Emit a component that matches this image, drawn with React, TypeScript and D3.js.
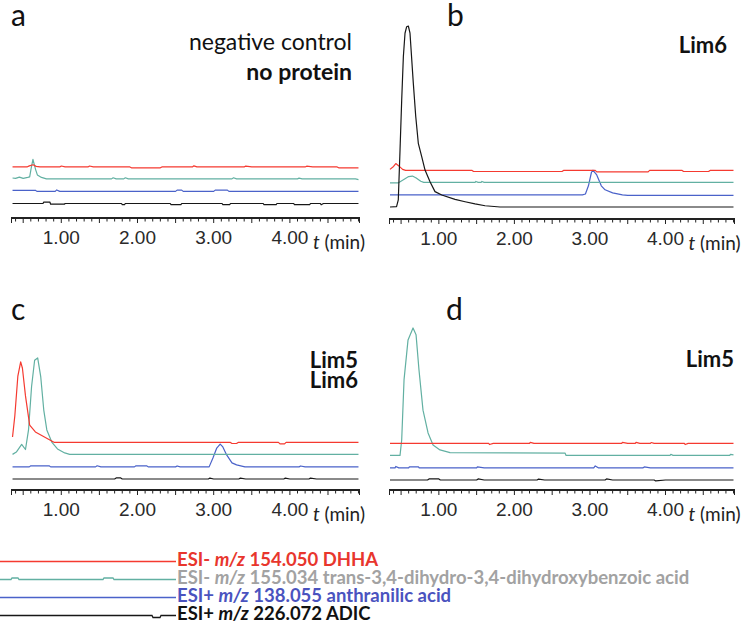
import React from "react";
import * as d3 from "d3";

type Pt = [number, number];

// ---------- axis ----------
const TIME_DOMAIN: [number, number] = [0.34, 4.92];
const TICK_VALUES = [1, 2, 3, 4];
const TICK_LABELS = ["1.00", "2.00", "3.00", "4.00"];
const MINOR_TICKS = d3.range(4, 50).map((i) => i / 10);
const AXIS_UNIT = "(min)";
const AXIS_VAR = "t";

// ---------- series ----------
const SERIES_NAMES = ["DHHA", "DHHBA", "anthranilic acid", "ADIC"];
const SERIES_COLORS = ["#f53a30", "#62b0a2", "#4a62c9", "#171717"];
// baseline offsets of the stacked traces (relative intensity units)
const SERIES_OFFSETS = [20.2, 13.6, 6.7, 0];

// ---------- panel a : negative control ----------
const A_RED: Pt[] = [[0.36,0],[0.55,0],[0.58,0.6],[0.63,1.2],[0.67,0.3],[0.72,0],[0.98,0],[1.0,0.5],[1.05,0],[1.35,0],[1.37,0.5],[1.42,0],[1.9,0],[1.92,-0.5],[2.3,-0.5],[2.32,0],[2.72,0],[2.74,0.6],[2.78,0],[3.4,0],[3.42,0.5],[3.5,0],[4.2,0],[4.22,0.4],[4.3,0],[4.62,0],[4.64,-0.5],[4.9,-0.5]];
const A_TEAL: Pt[] = [[0.36,0.5],[0.4,0.3],[0.45,1],[0.5,0.3],[0.56,0.8],[0.585,1.1],[0.605,6],[0.628,10.8],[0.645,8],[0.664,5],[0.686,2.2],[0.74,0.8],[0.805,0],[1.66,0],[1.68,0.6],[1.72,0],[1.82,0],[1.84,0.6],[1.88,0],[3.24,0],[3.26,0.6],[3.3,0],[4.1,0],[4.12,0.4],[4.16,0],[4.86,0],[4.9,-0.4]];
const A_BLUE: Pt[] = [[0.36,0.6],[0.66,0.6],[0.68,0],[0.92,0],[0.94,0.8],[0.98,0],[2.5,0],[2.52,0.7],[2.58,0.7],[2.6,0],[3.0,0],[3.02,0.7],[3.18,0.7],[3.2,0],[4.9,0]];
const A_BLACK: Pt[] = [[0.36,0],[0.76,0],[0.77,0.8],[0.85,0.8],[0.86,-0.4],[1.04,-0.4],[1.05,0],[1.79,0],[1.8,-0.6],[1.83,-0.6],[1.84,0],[2.43,0],[2.44,-0.6],[2.57,-0.6],[2.58,0],[3.11,0],[3.12,-0.6],[3.21,-0.6],[3.22,0],[3.65,0],[3.66,-0.6],[3.82,-0.6],[3.83,0],[4.05,0],[4.06,-0.6],[4.26,-0.6],[4.27,0],[4.4,0],[4.41,-0.7],[4.44,0],[4.9,0]];

// ---------- panel b : Lim6 ----------
const B_RED: Pt[] = [[0.353,0.6],[0.4,2.2],[0.43,3.8],[0.47,2.5],[0.52,0.6],[0.56,0],[1.44,0],[1.46,-0.6],[2.63,-0.6],[2.65,0],[3.07,0],[3.09,-0.8],[3.77,-0.8],[3.79,0],[4.22,0],[4.24,-0.6],[4.57,-0.6],[4.59,0],[4.9,0]];
const B_TEAL: Pt[] = [[0.353,-0.3],[0.46,-0.3],[0.52,1.2],[0.6,3.2],[0.65,3.5],[0.7,2.4],[0.76,0.6],[0.8,0],[1.48,0],[1.49,0.5],[1.52,0],[1.56,0],[1.57,0.5],[1.6,0],[4.9,0]];
const B_BLUE: Pt[] = [[0.353,0],[2.9,0],[2.94,0.5],[2.98,5],[3.02,12.5],[3.04,13.6],[3.09,11],[3.15,5],[3.2,2.8],[3.3,1.1],[3.43,0],[3.5,-0.3],[4.9,-0.3]];
const B_BLACK: Pt[] = [[0.353,0],[0.44,0.2],[0.463,3.9],[0.486,31.5],[0.508,59],[0.53,83],[0.552,96],[0.574,99.6],[0.596,100],[0.618,96],[0.662,68.3],[0.694,50],[0.728,35.2],[0.773,27.8],[0.817,20.4],[0.883,14],[0.949,8.5],[1.038,6.6],[1.214,4.2],[1.347,2.9],[1.479,1.7],[1.612,0.7],[1.81,0],[4.9,0]];

// ---------- panel c : Lim5 + Lim6 ----------
const C_RED: Pt[] = [[0.36,3],[0.39,14.6],[0.43,36.7],[0.467,44.5],[0.49,41],[0.53,25.7],[0.585,9.6],[0.66,5.8],[0.755,3.6],[0.85,1.4],[0.91,0],[3.22,0],[3.24,-0.6],[3.3,-0.6],[3.32,0],[3.85,0],[3.87,-0.8],[3.93,-0.8],[3.95,0],[4.9,0]];
const C_TEAL: Pt[] = [[0.36,0],[0.41,1.3],[0.48,5.5],[0.53,2.7],[0.57,13.5],[0.61,37.5],[0.65,52],[0.69,53.3],[0.73,43],[0.77,24.5],[0.81,13.5],[0.875,6.8],[0.95,3],[1.045,0.8],[1.11,0],[4.9,0]];
const C_BLUE: Pt[] = [[0.36,0],[0.58,0],[0.6,0.6],[0.84,0.6],[0.86,0],[1.45,0],[1.47,0.6],[1.52,0],[1.96,0],[1.98,0.6],[2.12,0.6],[2.14,0],[2.5,0],[2.52,0.5],[2.56,0],[2.94,0],[2.99,4.9],[3.04,10.4],[3.085,12.6],[3.12,11],[3.17,6.6],[3.24,2.2],[3.3,1.1],[3.41,0],[4.12,0],[4.14,0.5],[4.2,0],[4.9,0]];
const C_BLACK: Pt[] = [[0.36,0],[1.7,0],[1.72,0.6],[1.78,0.6],[1.8,0],[2.93,0],[2.95,0.5],[3.0,0],[3.33,0],[3.35,0.5],[3.42,0],[3.92,0],[3.94,0.5],[4.0,0],[4.25,0],[4.27,0.5],[4.35,0],[4.9,0]];

// ---------- panel d : Lim5 ----------
const D_RED: Pt[] = [[0.353,0],[1.66,0],[1.67,-0.6],[1.72,0],[2.2,0],[2.21,0.6],[2.26,0],[3.42,0],[3.43,0.6],[3.5,0],[3.6,0],[3.61,0.6],[3.66,0],[3.8,0],[3.81,0.5],[3.85,0],[4.25,0],[4.26,-0.6],[4.3,0],[4.9,0]];
const D_TEAL: Pt[] = [[0.353,0],[0.486,0],[0.508,8.5],[0.539,41.7],[0.592,63.8],[0.658,70.4],[0.698,66.7],[0.737,47.2],[0.79,25],[0.857,12.4],[0.923,5.7],[1.015,3],[1.148,1.5],[2.67,1.3],[2.684,0],[4.06,0],[4.07,0.6],[4.1,0],[4.85,0],[4.86,0.6],[4.9,0.3]];
const D_BLUE: Pt[] = [[0.353,0],[0.42,0],[0.43,0.8],[0.47,0],[0.6,0],[0.61,0.6],[0.73,0.6],[0.74,0],[1.5,0],[1.51,0.5],[1.6,0],[3.05,0],[3.07,1.1],[3.11,0],[3.7,0],[3.72,0.5],[3.8,0],[4.9,0]];
const D_BLACK: Pt[] = [[0.353,0],[0.85,0],[0.87,0.6],[1.0,0.6],[1.02,0],[1.5,0],[1.52,0.6],[1.6,0],[2.3,0],[2.32,0.5],[2.4,0],[3.2,0],[3.22,0.6],[3.3,0],[3.85,0],[3.87,-0.5],[4.0,0],[4.9,0]];

const PANEL_LETTERS = ["a", "b", "c", "d"];
const PANEL_NOTES: { text: string; bold: boolean }[][] = [
  [{ text: "negative control", bold: false }, { text: "no protein", bold: true }],
  [{ text: "Lim6", bold: true }],
  [{ text: "Lim5", bold: true }, { text: "Lim6", bold: true }],
  [{ text: "Lim5", bold: true }],
];
const PANEL_SERIES: Pt[][][] = [
  [A_RED, A_TEAL, A_BLUE, A_BLACK],
  [B_RED, B_TEAL, B_BLUE, B_BLACK],
  [C_RED, C_TEAL, C_BLUE, C_BLACK],
  [D_RED, D_TEAL, D_BLUE, D_BLACK],
];

// ---------- legend ----------
const LEGEND_PREFIX = ["ESI- ", "ESI- ", "ESI+ ", "ESI+ "];
const LEGEND_MZ = ["154.050", "155.034", "138.055", "226.072"];
const LEGEND_NAMES = ["DHHA", "trans-3,4-dihydro-3,4-dihydroxybenzoic acid", "anthranilic acid", "ADIC"];
const LEGEND_TEXT_COLORS = ["#e8362d", "#a2a2a2", "#4a53bf", "#111111"];

// ---------- layout (positions / styles) ----------
const LAYOUT = [
  { x0: 11, x1: 360, base: 203.5, axisY: 218, letterX: 11, letterY: 26, noteRight: 352, noteY: [50, 80], noteSize: 23 },
  { x0: 389, x1: 735, base: 207, axisY: 219, letterX: 447, letterY: 26, noteRight: 727, noteY: [53], noteSize: 22 },
  { x0: 11, x1: 360, base: 479, axisY: 490, letterX: 11, letterY: 320, noteRight: 358, noteY: [368, 388], noteSize: 22 },
  { x0: 389, x1: 735, base: 480, axisY: 490, letterX: 446, letterY: 320, noteRight: 734, noteY: [367], noteSize: 22 },
];
const Y_PX_PER_100 = 181;
const DRAW_ORDER = [2, 1, 0, 3];
const CAL = "Lato, 'Open Sans', sans-serif";
const ARIAL = "'Liberation Sans', Arial, sans-serif";

function Panel({ idx }: { idx: number }) {
  const L = LAYOUT[idx];
  const x = d3.scaleLinear().domain(TIME_DOMAIN).range([L.x0, L.x1]);
  const y = d3.scaleLinear().domain([0, 100]).range([L.base, L.base - Y_PX_PER_100]);
  const series = PANEL_SERIES[idx];
  return (
    <g>
      <text x={L.letterX} y={L.letterY} fontFamily={CAL} fontSize={30} fill="#111">
        {PANEL_LETTERS[idx]}
      </text>
      {PANEL_NOTES[idx].map((n, k) => (
        <text
          key={k}
          x={L.noteRight}
          y={L.noteY[k]}
          textAnchor="end"
          fontFamily={CAL}
          fontWeight={n.bold ? 700 : 400}
          fontSize={L.noteSize}
          fill="#111"
        >
          {n.text}
        </text>
      ))}
      {DRAW_ORDER.map((si) => {
        const line = d3
          .line<Pt>()
          .x((d) => x(d[0]))
          .y((d) => y(d[1] + SERIES_OFFSETS[si]));
        return (
          <path
            key={SERIES_NAMES[si]}
            d={line(series[si]) || ""}
            fill="none"
            stroke={SERIES_COLORS[si]}
            strokeWidth={1.2}
            strokeLinejoin="round"
          />
        );
      })}
      {/* axis */}
      <line x1={L.x0} x2={L.x1} y1={L.axisY} y2={L.axisY} stroke="#222" strokeWidth={2} />
      {MINOR_TICKS.map((t) => {
        const half = Math.abs(t * 2 - Math.round(t * 2)) < 1e-6;
        return (
          <line
            key={t}
            x1={x(t)}
            x2={x(t)}
            y1={L.axisY}
            y2={L.axisY + (half ? 5 : 3.5)}
            stroke="#222"
            strokeWidth={1}
          />
        );
      })}
      <line x1={L.x0 + 0.5} x2={L.x0 + 0.5} y1={L.axisY} y2={L.axisY + 5} stroke="#222" strokeWidth={1} />
      <line x1={L.x1 - 0.5} x2={L.x1 - 0.5} y1={L.axisY} y2={L.axisY + 5} stroke="#222" strokeWidth={1} />
      {TICK_VALUES.map((t, k) => (
        <text
          key={t}
          x={x(t)}
          y={L.axisY + 26}
          textAnchor="middle"
          fontFamily={ARIAL}
          fontSize={19}
          fill="#2a2a2a"
        >
          {TICK_LABELS[k]}
        </text>
      ))}
      <text x={x(4) + 23} y={L.axisY + 31} fontFamily={CAL} fontSize={19} fill="#222">
        <tspan fontStyle="italic">{AXIS_VAR}</tspan>
        <tspan> {AXIS_UNIT}</tspan>
      </text>
    </g>
  );
}

const LEGEND_Y = [566, 584, 602, 620];
const LEGEND_SWATCH: Pt[][] = [
  [[0, 0], [176, 0]],
  [[0, 0], [11, 0], [12, 1.5], [18, 1.5], [19, 0], [103, 0], [104, 1.5], [113, 1.5], [114, 0], [176, 0]],
  [[0, 0], [176, 0]],
  [[0, 0], [152, 0], [153, -2], [160, -2], [161, 0], [176, 0]],
];

function Legend() {
  return (
    <g>
      {LEGEND_NAMES.map((name, i) => {
        const ly = LEGEND_Y[i] - 4.5;
        const line = d3
          .line<Pt>()
          .x((d) => d[0])
          .y((d) => ly - d[1]);
        return (
          <g key={name}>
            <path d={line(LEGEND_SWATCH[i]) || ""} fill="none" stroke={SERIES_COLORS[i]} strokeWidth={1.3} />
            <text
              x={177}
              y={LEGEND_Y[i]}
              fontFamily={CAL}
              fontWeight={700}
              fontSize={18.5}
              fill={LEGEND_TEXT_COLORS[i]}
            >
              {LEGEND_PREFIX[i]}
              <tspan fontStyle="italic">m/z</tspan>
              {" " + LEGEND_MZ[i] + " " + name}
            </text>
          </g>
        );
      })}
    </g>
  );
}

export default function App() {
  return (
    <svg
      width={750}
      height={625}
      viewBox="0 0 750 625"
      style={{ position: "absolute", left: 0, top: 0, background: "#fff" }}
    >
      <rect width={750} height={625} fill="#fff" />
      {[0, 1, 2, 3].map((i) => (
        <Panel key={i} idx={i} />
      ))}
      <Legend />
    </svg>
  );
}
